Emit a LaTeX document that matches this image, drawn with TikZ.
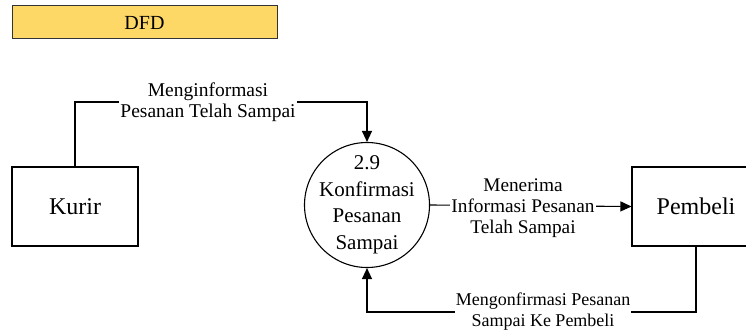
\documentclass[tikz,border=0pt]{standalone}
\usepackage{fontspec}
\setmainfont{Liberation Serif}
\usetikzlibrary{arrows.meta, positioning}
\definecolor{judul}{RGB}{253,216,102}
\tikzset{
  entitas/.style={draw, line width=1.1pt, minimum height=79pt, inner sep=0pt, font=\fontsize{24}{28}\selectfont},
  proses/.style={draw, circle, line width=1.1pt, minimum size=125pt, inner sep=-8pt, align=center, font=\fontsize{21}{26.5}\selectfont},
  alir/.style={line width=1.1pt, -{Triangle[length=11pt,width=10pt]}},
  ket/.style={fill=white, inner sep=1pt, align=center}
}

\begin{document}
\begin{tikzpicture}[x=1pt, y=-1pt]
      \useasboundingbox (0,0) rectangle (746,334);
      % judul
      \node[draw=black!80, fill=judul, line width=1pt, minimum width=265pt, minimum height=33pt, inner sep=0pt, font=\fontsize{20}{24}\selectfont] (dfd) at (144.5,22.5) {DFD};
      % entitas dan proses
      \node[entitas, minimum width=126pt] (kurir) at (75,206.5) {Kurir};
      \node[proses] (konfirmasi) at (367,205) {2.9\\Konfirmasi\\Pesanan\\Sampai};
      \node[entitas, minimum width=128pt] (pembeli) at (696,206.5) {Pembeli};
      \coordinate (atas) at (367,102);
      \coordinate (bawah) at (367,312);
      % aliran data
      \draw[alir] (kurir.north) |- (atas) -- (konfirmasi.north);
      \node[ket, font=\fontsize{19.5}{21}\selectfont] (ket1) at (208,102) {Menginformasi\\Pesanan Telah Sampai};
      \draw[alir] (konfirmasi.east) -- (pembeli.west);
      \node[ket, font=\fontsize{19.3}{21}\selectfont] (ket2) at (523,208) {Menerima\\Informasi Pesanan\\Telah Sampai};
      \draw[alir] (pembeli.south) |- (bawah) -- (konfirmasi.south);
      \node[ket, font=\fontsize{18}{21}\selectfont] (ket3) at (543,312) {Mengonfirmasi Pesanan\\Sampai Ke Pembeli};
    \end{tikzpicture}
\end{document}
